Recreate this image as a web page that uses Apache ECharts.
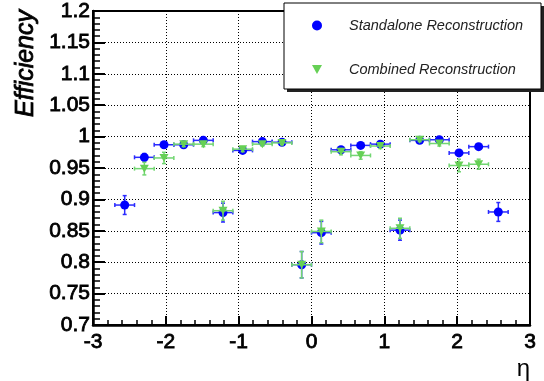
<!DOCTYPE html>
<html>
<head>
<meta charset="utf-8">
<script src="https://cdn.jsdelivr.net/npm/echarts@6/dist/echarts.min.js"></script>
<style>
html,body{margin:0;padding:0;background:#fff;}
#chart{width:544px;height:381px;}
</style>
</head>
<body>
<div id="chart"></div>
<script>
// ---- data ----
const eta = [-2.565, -2.295, -2.025, -1.755, -1.485, -1.215, -0.945, -0.675, -0.405, -0.135,
              0.135,  0.405,  0.675,  0.945,  1.215,  1.485,  1.755,  2.025,  2.295,  2.565];
const etaErr = [0.135, 0.135, 0.135, 0.135, 0.135, 0.135, 0.135, 0.135, 0.135, 0.135,
                0.135, 0.135, 0.135, 0.135, 0.135, 0.135, 0.135, 0.135, 0.135, 0.135];
const standalone = [0.891, 0.967, 0.987, 0.987, 0.994, 0.879, 0.978, 0.992, 0.991, 0.796,
                    0.847, 0.979, 0.986, 0.988, 0.851, 0.994, 0.995, 0.974, 0.984, 0.880];
const standaloneErr = [0.015, 0.006, 0.004, 0.003, 0.003, 0.015, 0.004, 0.003, 0.003, 0.021,
                       0.018, 0.004, 0.003, 0.003, 0.016, 0.003, 0.003, 0.005, 0.004, 0.015];
const combined = [null, 0.949, 0.966, 0.988, 0.988, 0.882, 0.980, 0.988, 0.990, 0.796,
                  0.849, 0.976, 0.970, 0.985, 0.854, 0.995, 0.989, 0.954, 0.956, null];
const combinedErr = [null, 0.010, 0.009, 0.004, 0.004, 0.015, 0.004, 0.003, 0.003, 0.021,
                     0.018, 0.005, 0.006, 0.004, 0.016, 0.003, 0.004, 0.010, 0.008, null];
const xTicks = [-3, -2, -1, 0, 1, 2, 3];
const seriesNames = ['Standalone Reconstruction', 'Combined Reconstruction'];
const xTitle = 'η';
const yTitle = 'Efficiency';

// ---- build ----
function rows(vals, errs) {
  const out = [];
  for (let i = 0; i < eta.length; i++) {
    if (vals[i] == null) continue;
    out.push([eta[i], vals[i], etaErr[i], errs[i]]);
  }
  return out;
}
const blueRows = rows(standalone, standaloneErr);
const greenRows = rows(combined, combinedErr);

const BLUE = '#0000ff';
const BLUE_ERR = '#2b2bff';
const GREEN = '#66d055';
const GREEN_ERR = '#72d672';
const TRI = 'path://M0,0L10,0L5,9Z';

function errRender(color) {
  return function (params, api) {
    const x = api.value(0), y = api.value(1), ex = api.value(2), ey = api.value(3);
    const l = api.coord([x - ex, y]), r = api.coord([x + ex, y]);
    const b = api.coord([x, y - ey]), t = api.coord([x, y + ey]);
    const c = 2;
    const st = {stroke: color, lineWidth: 1.5};
    const ln = (x1, y1, x2, y2) => ({type: 'line', shape: {x1, y1, x2, y2}, style: st});
    return {
      type: 'group',
      children: [
        ln(l[0], l[1], r[0], r[1]),
        ln(b[0], b[1], t[0], t[1]),
        ln(l[0], l[1] - c, l[0], l[1] + c),
        ln(r[0], r[1] - c, r[0], r[1] + c),
        ln(b[0] - c, b[1], b[0] + c, b[1]),
        ln(t[0] - c, t[1], t[0] + c, t[1])
      ]
    };
  };
}

const FONT = '"Liberation Sans", Arial, Helvetica, sans-serif';
const chart = echarts.init(document.getElementById('chart'), null, {renderer: 'canvas'});
chart.setOption({
  backgroundColor: '#fff',
  animation: false,
  grid: {left: 93, right: 14, top: 11, bottom: 56, show: true, borderColor: '#000', borderWidth: 2, backgroundColor: 'transparent'},
  xAxis: {
    type: 'value', min: xTicks[0], max: xTicks[xTicks.length - 1], interval: 1,
    axisLine: {onZero: false, lineStyle: {color: '#000', width: 2.5}},
    axisTick: {inside: true, length: 9, lineStyle: {color: '#000', width: 2}},
    minorTick: {show: true, splitNumber: 5, length: 5, lineStyle: {color: '#000', width: 1.5}},
    splitLine: {show: true, lineStyle: {color: '#000', width: 1, type: [1, 2]}},
    axisLabel: {color: '#000', fontFamily: FONT, fontSize: 21, margin: 7, showMinLabel: true, showMaxLabel: true,
      textBorderColor: '#000', textBorderWidth: 0.8}
  },
  yAxis: {
    type: 'value', min: 0.7, max: 1.2, interval: 0.05,
    axisLine: {onZero: false, lineStyle: {color: '#000', width: 2.5}},
    axisTick: {inside: true, length: 12, lineStyle: {color: '#000', width: 2}},
    minorTick: {show: true, splitNumber: 5, length: 7, lineStyle: {color: '#000', width: 1.5}},
    splitLine: {show: true, lineStyle: {color: '#000', width: 1, type: [1, 2]}},
    axisLabel: {color: '#000', fontFamily: FONT, fontSize: 21, margin: 3,
      textBorderColor: '#000', textBorderWidth: 0.8,
      formatter: v => String(Number(v.toFixed(2)))}
  },
  legend: {
    data: [
      {name: seriesNames[0], icon: 'circle'},
      {name: seriesNames[1], icon: TRI}
    ],
    orient: 'vertical', left: 312, top: 18, padding: 0, itemWidth: 10, itemHeight: 10, itemGap: 29,
    textStyle: {fontFamily: FONT, fontStyle: 'italic', fontSize: 14.5, color: '#222', lineHeight: 14, padding: [0, 0, 0, 22]},
    z: 20
  },
  graphic: [
    {type: 'rect', z: 10, shape: {x: 287, y: 6, width: 257, height: 86}, style: {fill: '#222'}},
    {type: 'rect', z: 11, shape: {x: 284, y: 3, width: 257, height: 86}, style: {fill: '#fff', stroke: '#000', lineWidth: 1}},
    {type: 'text', z: 12, x: 26, y: 10, rotation: Math.PI / 2,
      style: {text: yTitle, fontFamily: FONT, fontStyle: 'italic', fontSize: 25, fill: '#000', stroke: '#000', lineWidth: 0.8, align: 'right', verticalAlign: 'middle'}},
    {type: 'text', z: 12, x: 530, y: 369,
      style: {text: xTitle, fontFamily: FONT, fontSize: 24, fill: '#000', align: 'right', verticalAlign: 'middle'}}
  ],
  series: [
    {name: 'standaloneErr', type: 'custom', renderItem: errRender(BLUE_ERR), data: blueRows, encode: {x: 0, y: 1}, z: 2, silent: true},
    {name: seriesNames[0], type: 'scatter', data: blueRows.map(r => [r[0], r[1]]), symbol: 'circle', symbolSize: 9,
      itemStyle: {color: BLUE, opacity: 1}, z: 3},
    {name: 'combinedErr', type: 'custom', renderItem: errRender(GREEN_ERR), data: greenRows, encode: {x: 0, y: 1}, z: 4, silent: true},
    {name: seriesNames[1], type: 'scatter', data: greenRows.map(r => [r[0], r[1]]), symbol: TRI, symbolSize: [9, 8],
      itemStyle: {color: GREEN, opacity: 1}, z: 5}
  ]
});
</script>
</body>
</html>
